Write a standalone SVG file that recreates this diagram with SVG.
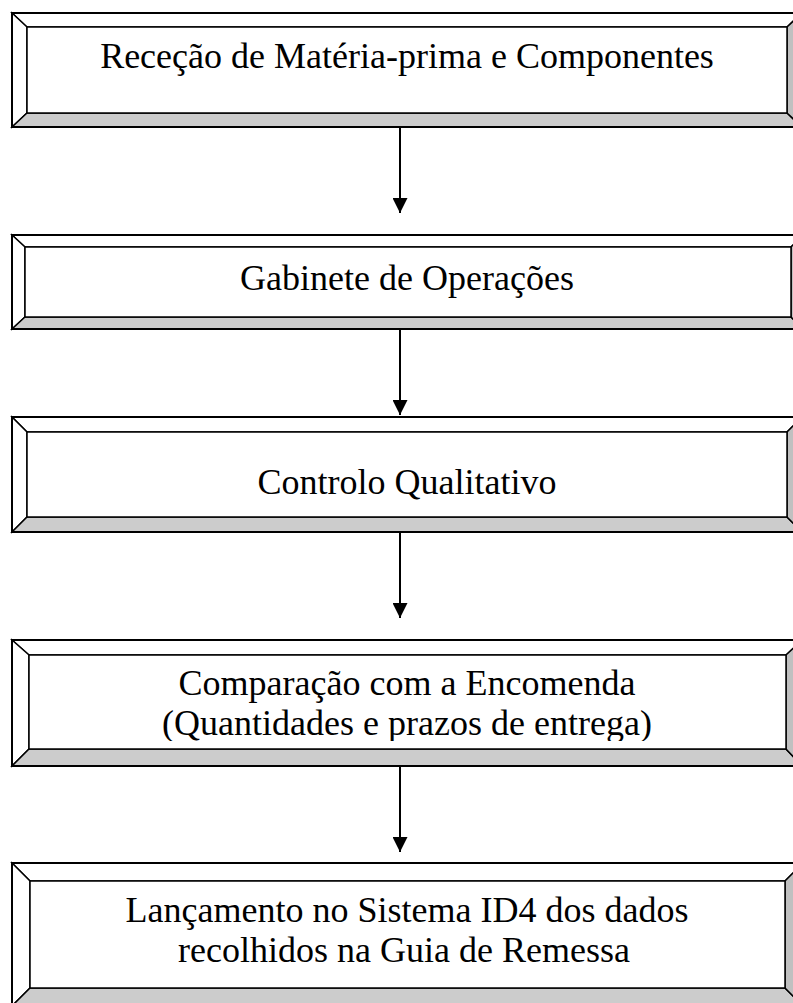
<svg xmlns="http://www.w3.org/2000/svg" width="793" height="1003" viewBox="0 0 793 1003">
<style>
.o{fill:none;stroke:#000;stroke-width:2}
.w{fill:#fff;stroke:#000;stroke-width:1.5;stroke-linejoin:miter}
.b{fill:#cccccc;stroke:#000;stroke-width:1.5}
.r{fill:#c0c0c0;stroke:#000;stroke-width:1.5}
.t{font-family:"Liberation Serif","Times New Roman",serif;font-size:36px;fill:#000;text-anchor:middle}
.c{stroke:#000;stroke-width:2;fill:none}
</style>
<defs>
<marker id="ah" markerWidth="15" markerHeight="15" refX="15" refY="7.5" orient="auto" markerUnits="userSpaceOnUse">
<polygon points="0,0 15,7.5 0,15" fill="#000"/>
</marker>
<clipPath id="clip4"><rect x="29" y="655" width="757" height="86"/></clipPath>
</defs>
<rect width="793" height="1003" fill="#fff"/>

<g id="n1">
<polygon class="w" points="12,13 802,13 787,27 27,27"/>
<polygon class="w" points="12,13 27,27 27,113 12,127"/>
<polygon class="b" points="12,127 27,113 787,113 802,127"/>
<polygon class="r" points="802,13 787,27 787,113 802,127"/>
<rect class="w" x="27" y="27" width="760" height="86"/>
<rect class="o" x="12" y="13" width="790" height="114"/>
<text class="t" x="407" y="68">Receção de Matéria-prima e Componentes</text>
</g>

<g id="n2">
<polygon class="w" points="12,235 803,235 791,247 25,247"/>
<polygon class="w" points="12,235 25,247 25,317 12,329"/>
<polygon class="b" points="12,329 25,317 791,317 803,329"/>
<polygon class="r" points="803,235 791,247 791,317 803,329"/>
<rect class="w" x="25" y="247" width="766" height="70"/>
<rect class="o" x="12" y="235" width="791" height="94"/>
<text class="t" x="407" y="290">Gabinete de Operações</text>
</g>

<g id="n3">
<polygon class="w" points="12,417 802,417 787,432 27,432"/>
<polygon class="w" points="12,417 27,432 27,517 12,532"/>
<polygon class="b" points="12,532 27,517 787,517 802,532"/>
<polygon class="r" points="802,417 787,432 787,517 802,532"/>
<rect class="w" x="27" y="432" width="760" height="85"/>
<rect class="o" x="12" y="417" width="790" height="115"/>
<text class="t" x="407" y="494">Controlo Qualitativo</text>
</g>

<g id="n4">
<polygon class="w" points="12,640 802,640 786,655 29,655"/>
<polygon class="w" points="12,640 29,655 29,749 12,766"/>
<polygon class="b" points="12,766 29,749 786,749 802,766"/>
<polygon class="r" points="802,640 786,655 786,749 802,766"/>
<rect class="w" x="29" y="655" width="757" height="94"/>
<rect class="o" x="12" y="640" width="790" height="126"/>
<g clip-path="url(#clip4)">
<text class="t" x="407" y="695">Comparação com a Encomenda</text>
<text class="t" x="407" y="735">(Quantidades e prazos de entrega)</text>
</g>
</g>

<g id="n5">
<polygon class="w" points="12,863 803,863 785,881 30,881"/>
<polygon class="w" points="12,863 30,881 30,988 12,1006"/>
<polygon class="b" points="12,1006 30,988 785,988 803,1006"/>
<polygon class="r" points="803,863 785,881 785,988 803,1006"/>
<rect class="w" x="30" y="881" width="755" height="107"/>
<rect class="o" x="12" y="863" width="791" height="143"/>
<text class="t" x="407" y="922">Lançamento no Sistema ID4 dos dados</text>
<text class="t" x="404" y="962">recolhidos na Guia de Remessa</text>
</g>

<g id="connectors">
<line class="c" x1="400" y1="127" x2="400" y2="213" marker-end="url(#ah)"/>
<line class="c" x1="400" y1="329" x2="400" y2="415" marker-end="url(#ah)"/>
<line class="c" x1="400" y1="532" x2="400" y2="618" marker-end="url(#ah)"/>
<line class="c" x1="400" y1="766" x2="400" y2="852" marker-end="url(#ah)"/>
</g>
</svg>
